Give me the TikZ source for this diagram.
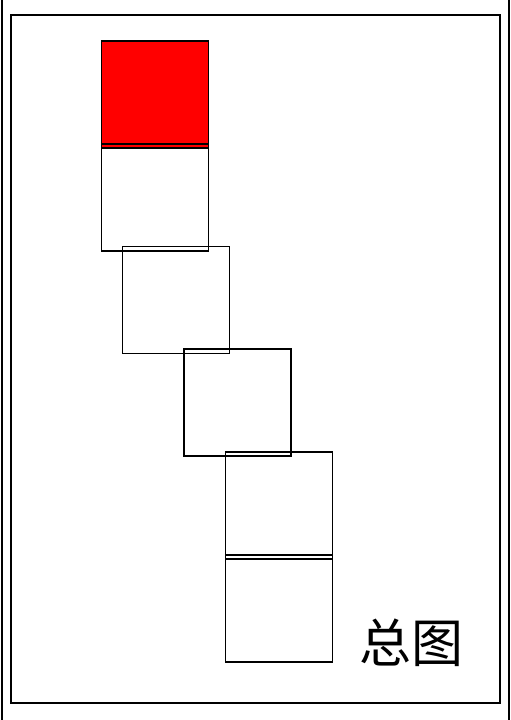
\documentclass[tikz,border=0pt]{standalone}
\usepackage{fontspec}
\newfontfamily\cjk{Noto Sans CJK SC}
\usetikzlibrary{positioning}
\tikzset{
    sheet/.style={x=1pt, y=-1pt, line width=1.9pt},
    tile/.style={draw, minimum size=107pt, inner sep=0pt, outer sep=0pt},
    active/.style={tile, fill=red},
    caption/.style={font=\cjk\fontsize{52}{54}\selectfont, inner sep=0pt},
    % the page frame
    frame/.style={line width=1.9pt},
}
\begin{document}
\begin{tikzpicture}[sheet]
        \useasboundingbox (0,0) rectangle (511,720);
        \coordinate (ftl) at (2,-2);
        \coordinate (fbl) at (2,722);
        \coordinate (ftr) at (509,-2);
        \coordinate (fbr) at (509,722);
        \draw[frame] (ftl) -- (fbl);
        \draw[frame] (ftr) -- (fbr);
        \draw[frame] (11,15) rectangle (500,703);

        \node[active] (t1) at (155,94.5)  {};
        \node[tile]   (t2) at (155,197.5) {};
        \node[tile]   (t3) at (176,300)   {};
        \node[tile]   (t4) at (237.5,402.5) {};
        \node[tile]   (t5) at (279,505.5) {};
        \node[tile]   (t6) at (279,608.5) {};

        \node[caption] (label) at (411,643) {总图};
    \end{tikzpicture}
\end{document}
